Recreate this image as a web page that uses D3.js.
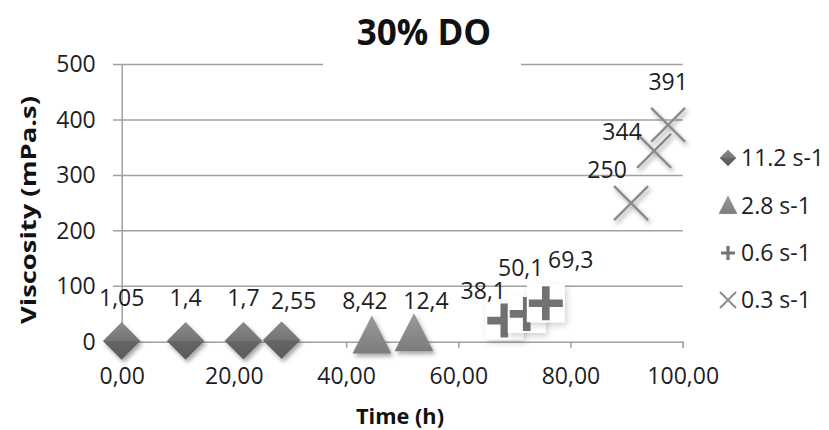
<!DOCTYPE html>
<html>
<head>
<meta charset="utf-8">
<script src="https://cdn.jsdelivr.net/npm/d3@7/dist/d3.min.js"></script>
<style>
  body { margin: 0; background: #fff; }
  svg { display: block; font-family: 'Open Sans', sans-serif; }
</style>
</head>
<body>
<svg id="chart" width="829" height="430"></svg>
<script>
// data
const seriesNames = ['11.2 s-1', '2.8 s-1', '0.6 s-1', '0.3 s-1'];
const times112 = [0, 11.4, 21.7, 28.5];
const visc112 = [1.05, 1.4, 1.7, 2.55];
const times28 = [44.6, 52.1];
const visc28 = [8.42, 12.4];
const times06 = [68.2, 72.2, 75.6];
const visc06 = [38.1, 50.1, 69.3];
const times03 = [90.8, 94.9, 97.4];
const visc03 = [250, 344, 391];
const xTicks = [0, 20, 40, 60, 80, 100];
const yTicks = [0, 100, 200, 300, 400, 500];

const svg = d3.select('#chart');

const locale = d3.formatLocale({ decimal: ',', thousands: '.', grouping: [3], currency: ['', ''] });
const fmtAxis = locale.format('.2f');
const fmtLabel = (v) => String(v).replace('.', ',');

const x = d3.scaleLinear().domain([0, 100]).range([121.7, 682.7]);
const y = d3.scaleLinear().domain([0, 500]).range([341.7, 64.5]);

const FS = 23;

// excel had the labels dragged around a bit
const labelNudge = {
  '2,55': [12, 4], '8,42': [-7, 7], '12,4': [12, 9],
  '38,1': [-21, 13], '50,1': [-6, -3], '69,3': [25, 0],
  '250': [-24, 10], '344': [-32, 24],
};

const defs = svg.append('defs');
const shadow = defs.append('filter').attr('id', 'shadow')
  .attr('x', '-50%').attr('y', '-50%').attr('width', '200%').attr('height', '200%');
shadow.append('feDropShadow').attr('dx', 2).attr('dy', 3)
  .attr('stdDeviation', 2).attr('flood-color', '#000').attr('flood-opacity', 0.35);

const softShadow = defs.append('filter').attr('id', 'softShadow')
  .attr('x', '-50%').attr('y', '-50%').attr('width', '200%').attr('height', '200%');
softShadow.append('feDropShadow').attr('dx', 2).attr('dy', 3)
  .attr('stdDeviation', 3).attr('flood-color', '#000').attr('flood-opacity', 0.18);

const gradDiamond = defs.append('linearGradient').attr('id', 'gDiamond')
  .attr('x1', 0).attr('y1', 0).attr('x2', 0).attr('y2', 1);
gradDiamond.append('stop').attr('offset', '0%').attr('stop-color', '#8a8a8a');
gradDiamond.append('stop').attr('offset', '50%').attr('stop-color', '#747474');
gradDiamond.append('stop').attr('offset', '51%').attr('stop-color', '#666');
gradDiamond.append('stop').attr('offset', '100%').attr('stop-color', '#5a5a5a');

const gradTri = defs.append('linearGradient').attr('id', 'gTri')
  .attr('x1', 0).attr('y1', 0).attr('x2', 0).attr('y2', 1);
gradTri.append('stop').attr('offset', '0%').attr('stop-color', '#9a9a9a');
gradTri.append('stop').attr('offset', '100%').attr('stop-color', '#7c7c7c');

// gridlines + ticks
const grid = svg.append('g');
grid.selectAll('line.h').data(yTicks.filter(d => d > 0)).join('line')
  .attr('x1', 113).attr('x2', x(100))
  .attr('y1', d => y(d)).attr('y2', d => y(d))
  .attr('stroke', '#a0a0a0').attr('stroke-width', 1.5);
grid.append('line').attr('x1', 113).attr('x2', x(0))
  .attr('y1', y(0)).attr('y2', y(0)).attr('stroke', '#a0a0a0').attr('stroke-width', 1.5);

// x axis
const xAxis = svg.append('g').attr('transform', `translate(0,${y(0)})`)
  .call(d3.axisBottom(x).tickValues(xTicks).tickFormat(fmtAxis).tickSize(6).tickPadding(20));
xAxis.select('.domain').attr('stroke', '#a0a0a0').attr('stroke-width', 1.5);
xAxis.selectAll('.tick line').attr('stroke', '#a0a0a0').attr('stroke-width', 1.5);
xAxis.selectAll('.tick text').attr('font-size', FS).attr('fill', '#1e1e1e')
  .attr('font-family', "'Open Sans', sans-serif");

// y axis
const yAxis = svg.append('g').attr('transform', `translate(${x(0)},0)`)
  .call(d3.axisLeft(y).tickValues(yTicks).tickSize(0).tickPadding(26));
yAxis.select('.domain').attr('stroke', '#a0a0a0').attr('stroke-width', 1.5);
yAxis.selectAll('.tick text').attr('font-size', FS).attr('fill', '#1e1e1e')
  .attr('font-family', "'Open Sans', sans-serif");

// title over the top gridline
svg.append('rect').attr('x', 323).attr('y', 52).attr('width', 198).attr('height', 20).attr('fill', '#fff');
svg.append('text').attr('x', 424).attr('y', 45).attr('text-anchor', 'middle')
  .attr('font-size', 35).attr('font-weight', 'bold').attr('fill', '#111').text('30% DO');

svg.append('text').attr('x', 400).attr('y', 424).attr('text-anchor', 'middle')
  .attr('font-size', 22).attr('font-weight', 'bold').attr('fill', '#111')
  .attr('textLength', 88).attr('lengthAdjust', 'spacingAndGlyphs').text('Time (h)');
svg.append('text').attr('transform', 'translate(36,210) rotate(-90)').attr('text-anchor', 'middle')
  .attr('font-size', 22).attr('font-weight', 'bold').attr('fill', '#111')
  .attr('textLength', 228).attr('lengthAdjust', 'spacingAndGlyphs').text('Viscosity (mPa.s)');

// marker drawers
const drawDiamond = (g, s) => {
  g.append('path').attr('d', `M0,${-s}L${s},0L0,${s}L${-s},0Z`)
    .attr('fill', 'url(#gDiamond)').attr('stroke', '#666').attr('stroke-width', 0.5);
};
const drawTriangle = (g, s) => {
  g.append('path').attr('d', `M0,${-s * 1.1}L${s},${s * 0.85}L${-s},${s * 0.85}Z`)
    .attr('fill', 'url(#gTri)').attr('stroke', '#777').attr('stroke-width', 0.5);
};
const drawPlus = (g, s, boxed) => {
  if (boxed) {
    g.append('rect').attr('x', -s - 2).attr('y', -s - 2).attr('width', 2 * s + 4).attr('height', 2 * s + 4)
      .attr('fill', '#fff').attr('filter', 'url(#softShadow)');
  }
  const t = s * 0.45;
  g.append('path')
    .attr('d', `M${-t / 2},${-s}H${t / 2}V${-t / 2}H${s}V${t / 2}H${t / 2}V${s}H${-t / 2}V${t / 2}H${-s}V${-t / 2}H${-t / 2}Z`)
    .attr('fill', '#727272');
};
const drawCross = (g, s, w) => {
  g.append('path').attr('d', `M${-s},${-s}L${s},${s}M${-s},${s}L${s},${-s}`)
    .attr('stroke', '#8c8c8c').attr('stroke-width', w).attr('fill', 'none');
};

const series = [
  { name: seriesNames[0], t: times112, v: visc112, draw: (g) => drawDiamond(g, 18.5), key: (g) => drawDiamond(g, 8), fx: 'url(#shadow)' },
  { name: seriesNames[1], t: times28, v: visc28, draw: (g) => drawTriangle(g, 19), key: (g) => drawTriangle(g, 9), fx: 'url(#shadow)' },
  { name: seriesNames[2], t: times06, v: visc06, draw: (g) => drawPlus(g, 17, true), key: (g) => drawPlus(g, 7, false), fx: null },
  { name: seriesNames[3], t: times03, v: visc03, draw: (g) => drawCross(g, 17, 2.5), key: (g) => drawCross(g, 8, 2), fx: 'url(#shadow)' },
];

const marks = svg.append('g');
series.forEach((s) => {
  s.t.forEach((t, i) => {
    const g = marks.append('g')
      .attr('transform', `translate(${x(t)},${y(s.v[i])})`)
      .attr('filter', s.fx);
    s.draw(g);
  });
});

const labels = svg.append('g');
series.forEach((s) => {
  s.t.forEach((t, i) => {
    const txt = fmtLabel(s.v[i]);
    const n = labelNudge[txt] || [0, 0];
    labels.append('text')
      .attr('x', x(t) + n[0]).attr('y', y(s.v[i]) - 35 + n[1])
      .attr('text-anchor', 'middle').attr('font-size', FS).attr('fill', '#1e1e1e')
      .text(txt);
  });
});

// legend
const legendY = [158, 206, 253, 300];
const legend = svg.append('g');
series.forEach((s, i) => {
  const g = legend.append('g').attr('transform', `translate(728,${legendY[i]})`);
  s.key(g);
  g.append('text').attr('x', 13).attr('y', 8).attr('font-size', FS).attr('fill', '#1e1e1e').text(s.name);
});
</script>
</body>
</html>
